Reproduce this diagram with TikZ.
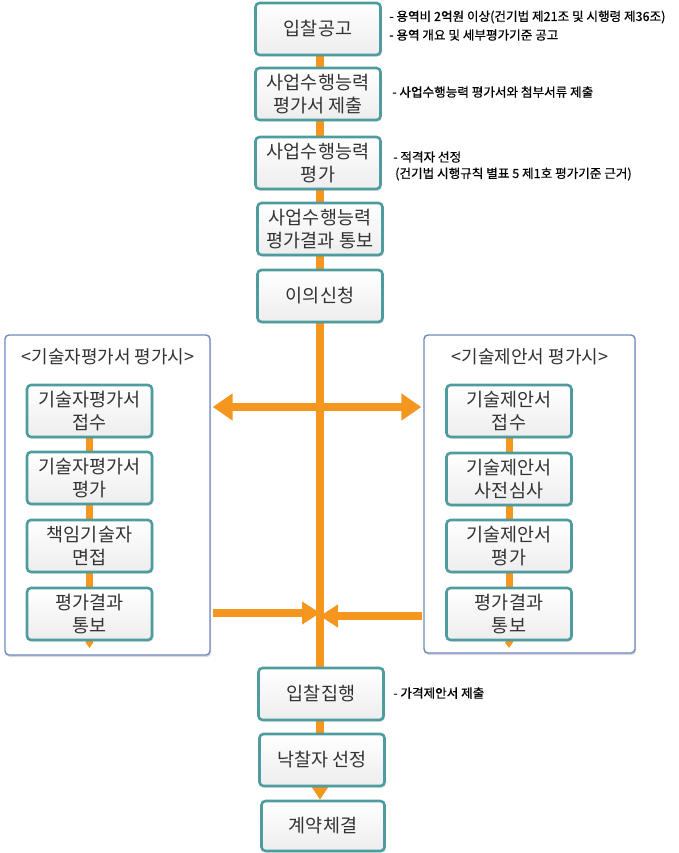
\documentclass[tikz,border=0pt]{standalone}
\usepackage{fontspec}
\setmainfont{Noto Sans CJK KR}
\newfontfamily\notefont[FakeBold=0.5]{Noto Sans CJK KR}
\usetikzlibrary{arrows.meta,shadows,calc}
\definecolor{org}{HTML}{F5961E}
\definecolor{teal2}{HTML}{4F9C9E}
\definecolor{frameb}{HTML}{7088C2}
\definecolor{txt}{HTML}{333333}
\pgfdeclarelayer{back}
\pgfdeclarelayer{mid}
\pgfsetlayers{back,mid,main}
\tikzset{
  box/.style={draw=teal2, line width=2.6pt, rounded corners=4pt, top color=white, bottom color=black!7,
    minimum width=125pt, minimum height=52pt, inner sep=0pt, align=center, text=txt,
    font=\fontsize{18.5}{23.5}\selectfont,
    drop shadow={opacity=.25, shadow xshift=1.5pt, shadow yshift=-1.5pt}},
  frame/.style={draw=frameb, line width=1.4pt, rounded corners=4pt, fill=white, inner sep=0pt,
    drop shadow={opacity=.3, shadow xshift=1pt, shadow yshift=-2pt}},
  ttl/.style={text=txt, font=\fontsize{18}{22}\selectfont, inner sep=0pt},
  note/.style={anchor=west, inner sep=0pt, font=\notefont\fontsize{12.6}{15}\selectfont},
  flow/.style={draw=org, line width=8pt, -{Triangle[width=16pt,length=13pt]}},
  flowsm/.style={draw=org, line width=7pt, -{Triangle[width=8pt,length=6pt]}},
  dbl/.style={draw=org, line width=7.5pt, {Triangle[width=26pt,length=20pt]}-{Triangle[width=26pt,length=20pt]}},
  sgl/.style={draw=org, line width=7.5pt, -{Triangle[width=22pt,length=18pt]}},
}
\begin{document}
\begin{tikzpicture}[x=1pt,y=-1pt]
\useasboundingbox (0,0) rectangle (678,853);
% main column
\node[box] (n1) at (318,29) {입찰공고};
\node[box] (n2) at (318,94) {사업수행능력\\평가서 제출};
\node[box] (n3) at (318,163) {사업수행능력\\평가};
\node[box] (n4) at (320,229) {사업수행능력\\평가결과 통보};
\node[box] (n5) at (320,296) {이의신청};
\node[box] (n6) at (321,694) {입찰집행};
\node[box] (n7) at (322,760) {낙찰자 선정};
\node[box, minimum width=123pt, minimum height=50pt] (n8) at (323,826) {계약체결};
% notes
\node[note] (a1) at (389,17) {- 용역비 2억원 이상(건기법 제21조 및 시행령 제36조)};
\node[note] (a2) at (389,35) {- 용역 개요 및 세부평가기준 공고};
\node[note] (a3) at (392,92) {- 사업수행능력 평가서와 첨부서류 제출};
\node[note] (a4) at (393,157) {- 적격자 선정};
\node[note] (a5) at (395,174) {(건기법 시행규칙 별표 5 제1호 평가기준 근거)};
\node[note] (a6) at (393,693) {- 가격제안서 제출};
% frames
\begin{pgfonlayer}{back}
\node[frame, minimum width=205pt, minimum height=320pt] (L) at (107.5,495) {};
\node[frame, minimum width=211pt, minimum height=318pt] (R) at (529.5,494) {};
\end{pgfonlayer}
\node[ttl] (Lt) at (108,357) {<기술자평가서 평가시>};
\node[ttl] (Rt) at (530,357) {<기술제안서 평가시>};
% left inner
\node[box] (l1) at (89.5,411) {기술자평가서\\접수};
\node[box] (l2) at (89.5,478) {기술자평가서\\평가};
\node[box] (l3) at (89.5,546) {책임기술자\\면접};
\node[box] (l4) at (89.5,614) {평가결과\\통보};
% right inner
\node[box] (r1) at (509,411) {기술제안서\\접수};
\node[box] (r2) at (509,479) {기술제안서\\사전심사};
\node[box] (r3) at (509,546) {기술제안서\\평가};
\node[box] (r4) at (509,614) {평가결과\\통보};
% connectors
\coordinate (vx) at (320,0);
\coordinate (lend) at (89.5,648);
\coordinate (rend) at (509,648);
\coordinate (yA) at (0,407);
\coordinate (yB) at (0,613);
\coordinate (yC) at (0,616);
\begin{pgfonlayer}{mid}
\draw[flow] (n1.south -| vx) -- (n8.north -| vx);
\draw[flowsm] (l1.south) -- (lend);
\draw[flowsm] (r1.south) -- (rend);
\draw[dbl] ($(L.east |- yA)+(2,0)$) -- ($(R.west |- yA)+(-2,0)$);
\draw[sgl] ($(L.east |- yB)+(2,0)$) -- (vx |- yB);
\draw[sgl] ($(R.west |- yC)+(-1,0)$) -- (vx |- yC);
\end{pgfonlayer}
\end{tikzpicture}
\end{document}
